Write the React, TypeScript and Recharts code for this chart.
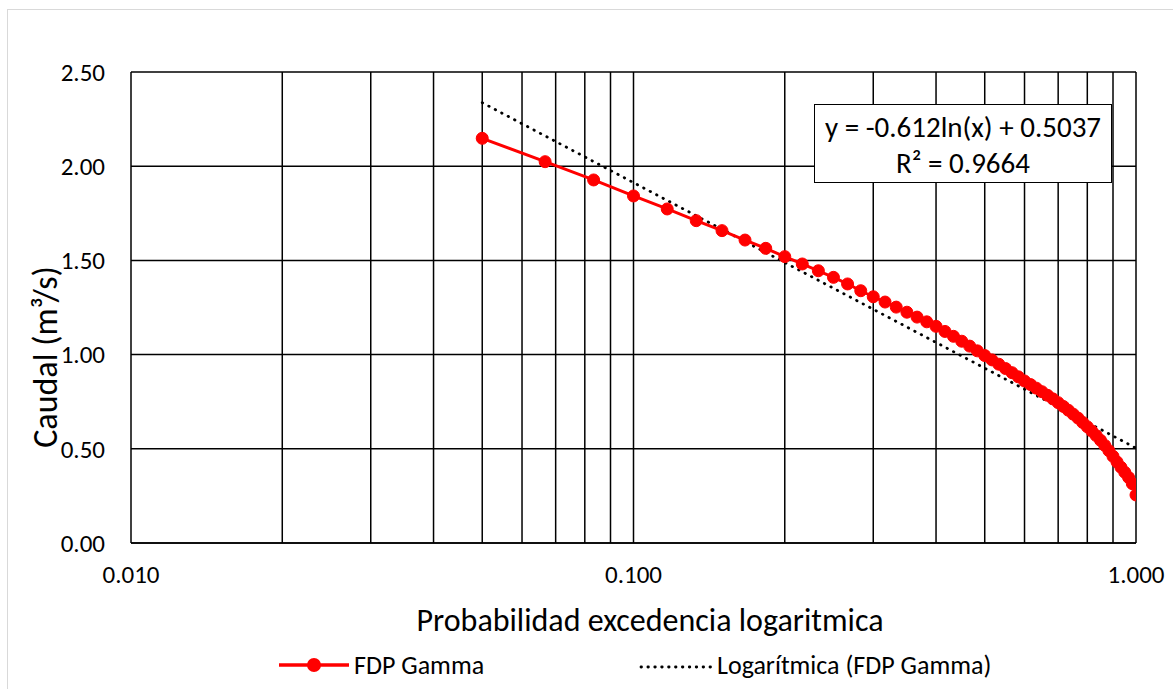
import React from 'react';
import { ComposedChart, Line, XAxis, YAxis, CartesianGrid, ReferenceLine } from 'recharts';

// probabilidad de excedencia (k/60) y caudal FDP Gamma
const exceedance = [
    0.05, 0.0667, 0.0833, 0.1, 0.1167, 0.1333, 0.15, 0.1667, 0.1833, 0.2,
    0.2167, 0.2333, 0.25, 0.2667, 0.2833, 0.3, 0.3167, 0.3333, 0.35, 0.3667,
    0.3833, 0.4, 0.4167, 0.4333, 0.45, 0.4667, 0.4833, 0.5, 0.5167, 0.5333,
    0.55, 0.5667, 0.5833, 0.6, 0.6167, 0.6333, 0.65, 0.6667, 0.6833, 0.7,
    0.7167, 0.7333, 0.75, 0.7667, 0.7833, 0.8, 0.8167, 0.8333, 0.85, 0.8667,
    0.8833, 0.9, 0.9167, 0.9333, 0.95, 0.9667, 0.9833, 1.0,
];
const caudal = [
    2.148, 2.024, 1.927, 1.842, 1.773, 1.711, 1.658, 1.608, 1.564, 1.52,
    1.481, 1.445, 1.41, 1.375, 1.339, 1.307, 1.279, 1.252, 1.225, 1.199,
    1.174, 1.15, 1.123, 1.097, 1.071, 1.045, 1.02, 0.995, 0.972, 0.949,
    0.926, 0.904, 0.882, 0.86, 0.841, 0.822, 0.803, 0.784, 0.765, 0.745,
    0.725, 0.705, 0.684, 0.663, 0.64, 0.617, 0.594, 0.57, 0.545, 0.518,
    0.49, 0.46, 0.43, 0.402, 0.375, 0.348, 0.315, 0.255,
];

// trend line endpoints (y = -0.612ln(x) + 0.5037)
const trendX = [0.05, 1.0];
const trendY = [2.337, 0.5037];

const xTicks = [0.01, 0.1, 1];
const yTicks = [0, 0.5, 1, 1.5, 2, 2.5];
const gridX = [0.02, 0.03, 0.04, 0.05, 0.06, 0.07, 0.08, 0.09, 0.1, 0.2, 0.3, 0.4, 0.5, 0.6, 0.7, 0.8, 0.9, 1];

const FONT = 'Carlito, Calibri, Lato, sans-serif';

const gammaData = exceedance.map((x, i) => ({ x, y: caudal[i] }));
const trendData = trendX.map((x, i) => ({ x, y: trendY[i] }));

export default function App() {
    return (
        <div style={{ position: 'absolute', left: 0, top: 0, width: 1173, height: 689, background: '#fff', fontFamily: FONT, overflow: 'hidden' }}>
            <div style={{ position: 'absolute', left: 7, top: 9, width: 1170, height: 690, border: '1px solid #d9d9d9' }} />
            <div style={{ position: 'absolute', left: 0, top: 0 }}>
                <ComposedChart width={1173} height={689} margin={{ top: 72, right: 37, bottom: 106, left: 71 }}>
                    <CartesianGrid vertical={false} stroke="#000" strokeWidth={1.5} />
                    {gridX.map(v => (
                        <ReferenceLine key={v} x={v} stroke="#000" strokeWidth={1.5} />
                    ))}
                    <XAxis
                        dataKey="x"
                        type="number"
                        scale="log"
                        domain={[0.01, 1]}
                        ticks={xTicks}
                        allowDataOverflow
                        tickFormatter={(v: number) => v.toFixed(3)}
                        tick={{ fontSize: 25, fill: '#000', fontFamily: FONT }}
                        tickLine={false}
                        tickSize={0}
                        tickMargin={22}
                        axisLine={{ stroke: '#000', strokeWidth: 1.5 }}
                        height={40}
                    />
                    <YAxis
                        type="number"
                        domain={[0, 2.5]}
                        ticks={yTicks}
                        tickFormatter={(v: number) => v.toFixed(2)}
                        tick={{ fontSize: 25, fill: '#000', fontFamily: FONT }}
                        tickLine={false}
                        tickSize={0}
                        tickMargin={26}
                        axisLine={{ stroke: '#000', strokeWidth: 1.5 }}
                        width={60}
                    />
                    <Line
                        data={trendData}
                        dataKey="y"
                        type="linear"
                        stroke="#000"
                        strokeWidth={2.8}
                        strokeDasharray="0.5 6.8"
                        strokeLinecap="round"
                        dot={false}
                        activeDot={false}
                        isAnimationActive={false}
                    />
                    <Line
                        data={gammaData}
                        dataKey="y"
                        type="linear"
                        stroke="#ff0000"
                        strokeWidth={3}
                        dot={{ r: 6, fill: '#ff0000', stroke: '#ff0000', strokeWidth: 1 }}
                        activeDot={false}
                        isAnimationActive={false}
                    />
                </ComposedChart>
            </div>

            {/* axis titles */}
            <div style={{ position: 'absolute', left: 650, top: 620, transform: 'translate(-50%, -50%)', fontSize: 32, whiteSpace: 'nowrap' }}>
                Probabilidad excedencia logaritmica
            </div>
            <div style={{ position: 'absolute', left: 45, top: 357, transform: 'translate(-50%, -50%) rotate(-90deg)', fontSize: 34, whiteSpace: 'nowrap' }}>
                Caudal (m³/s)
            </div>

            {/* trendline equation box */}
            <div style={{ position: 'absolute', left: 814, top: 104, width: 298, height: 79, border: '1.5px solid #000', background: '#fff', fontSize: 29, lineHeight: '36px', textAlign: 'center', paddingTop: 4, boxSizing: 'border-box' }}>
                <div>y = -0.612ln(x) + 0.5037</div>
                <div>R² = 0.9664</div>
            </div>

            {/* legend */}
            <div style={{ position: 'absolute', left: 279, top: 649, height: 32, display: 'flex', alignItems: 'center', fontSize: 26, whiteSpace: 'nowrap' }}>
                <svg width={70} height={30}>
                    <line x1={0} y1={15} x2={70} y2={15} stroke="#ff0000" strokeWidth={3.5} />
                    <circle cx={35} cy={15} r={7} fill="#ff0000" />
                </svg>
                <span style={{ marginLeft: 5, width: 285, display: 'inline-block' }}>FDP Gamma</span>
                <svg width={75} height={30}>
                    <line x1={2} y1={17} x2={74} y2={17} stroke="#000" strokeWidth={2.8} strokeDasharray="0.5 6.4" strokeLinecap="round" />
                </svg>
                <span style={{ marginLeft: 3 }}>Logarítmica (FDP Gamma)</span>
            </div>
        </div>
    );
}
